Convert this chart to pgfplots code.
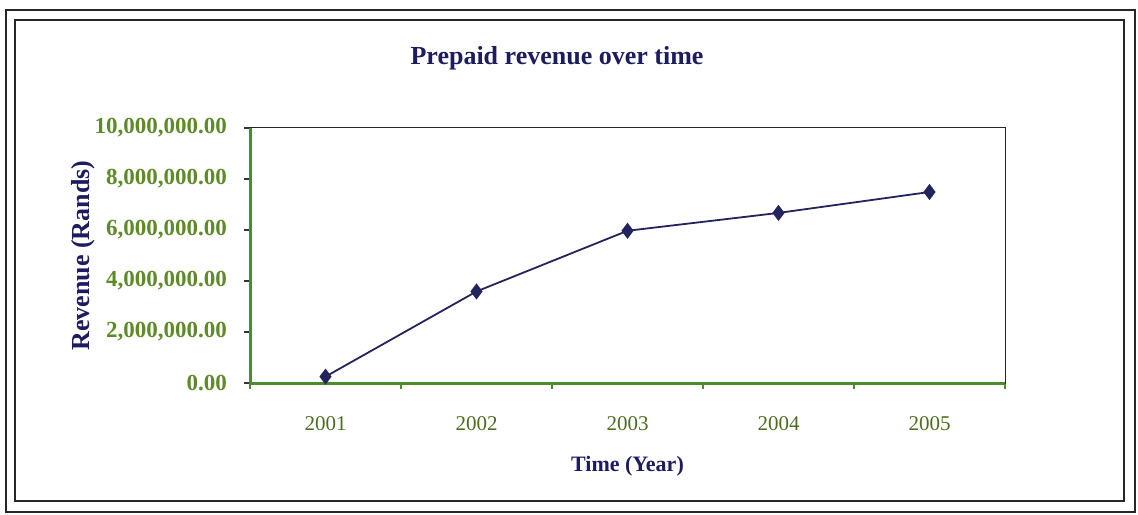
\documentclass[border=0pt]{standalone}
\usepackage{pgfplots}
\pgfplotsset{compat=1.18}
\usepackage{fontspec}
\setmainfont{Liberation Serif}
\definecolor{navy}{HTML}{1C1C5E}
\definecolor{olive}{HTML}{5E8A28}
\definecolor{axgreen}{HTML}{4E8A2E}
\definecolor{linecol}{HTML}{23235E}
\begin{document}
\begin{tikzpicture}
\useasboundingbox (0,0) rectangle (569pt,257pt);
\draw[line width=0.9pt,black!85] (3pt,1pt) rectangle (567.5pt,252pt);
\draw[line width=0.9pt,black!85] (7.5pt,6.5pt) rectangle (562pt,247pt);
\node[font=\fontsize{13}{15}\selectfont\bfseries,text=navy] at (278.5pt,228pt) {Prepaid revenue over time};
\begin{axis}[
  at={(125pt,65.5pt)}, anchor=south west,
  scale only axis, width=377.5pt, height=127.5pt,
  xmin=-0.5, xmax=4.5, ymin=0, ymax=10000000,
  xtick={0,1,2,3,4},
  xticklabels={2001,2002,2003,2004,2005},
  minor xtick={-0.5,0.5,1.5,2.5,3.5,4.5},
  ytick={0,2000000,4000000,6000000,8000000,10000000},
  yticklabels={0.00,{2,000,000.00},{4,000,000.00},{6,000,000.00},{8,000,000.00},{10,000,000.00}},
  scaled y ticks=false,
  xtick pos=left, ytick pos=left,
  axis line style={black!85, line width=0.5pt},
  tick align=outside,
  major tick length=0pt,
  minor tick length=3pt,
  every minor tick/.style={axgreen, line width=0.8pt},
  extra y ticks={0,2000000,4000000,6000000,8000000,10000000},
  extra y tick labels={},
  extra y tick style={major tick length=3pt, tick style={black!80,line width=0.8pt}},
  yticklabel style={font=\fontsize{11.5}{13}\selectfont\bfseries, text=olive, xshift=-8pt},
  xticklabel style={font=\fontsize{10.5}{12}\selectfont, text=olive!80!black, yshift=-13pt},
  xlabel={Time (Year)},
  xlabel style={font=\fontsize{11}{13}\selectfont\bfseries, text=navy, yshift=-6pt},
  ylabel={Revenue (Rands)},
  ylabel style={font=\fontsize{13}{15}\selectfont\bfseries, text=navy, yshift=-10pt},
  clip=false,
]
\addplot[linecol, line width=0.9pt, mark=diamond*, mark size=3.3pt, mark options={fill=linecol, draw=linecol}]
  coordinates {(0,250000) (1,3590000) (2,5970000) (3,6670000) (4,7490000)};
\draw[axgreen, line width=1.5pt] (rel axis cs:0,1) -- (rel axis cs:0,0) -- (rel axis cs:1,0);
\end{axis}
\end{tikzpicture}
\end{document}
